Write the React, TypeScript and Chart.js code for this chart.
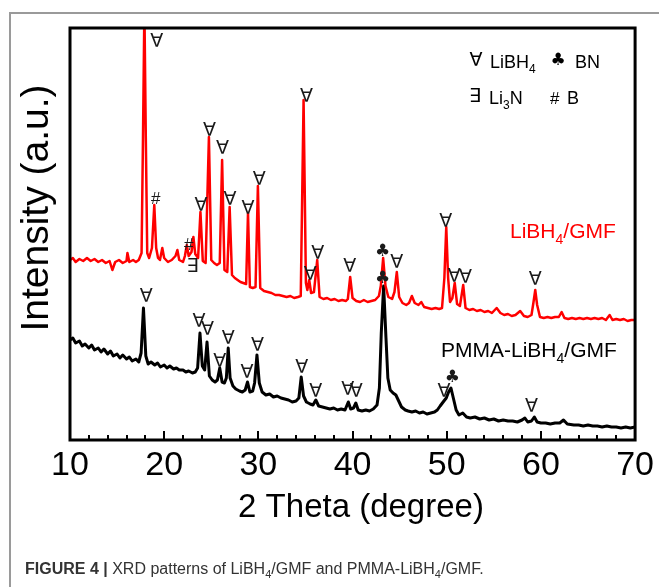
import React, { useEffect, useRef } from "react";
import { Chart, registerables } from "chart.js";

Chart.register(...registerables);

const FONT = '"Liberation Sans", Arial, Helvetica, sans-serif';
const SYM_FONT = '"DejaVu Sans", "Liberation Sans", sans-serif';

const X_MIN = 10;
const X_MAX = 70;
const X_STEP = 10;
const MINOR_TICKS = [12, 14, 16, 18, 22, 24, 26, 28, 32, 34, 36, 38, 42, 44, 46, 48, 52, 54, 56, 58, 62, 64, 66, 68];
const MAJOR_TICKS = [20, 30, 40, 50, 60];
const Y_MIN = -2;
const Y_MAX = 410;

// LiBH4/GMF pattern: [2θ, intensity]
const redPattern: [number, number][] = [
  [10.0, 178], [10.3, 180], [10.6, 176], [11.0, 179], [11.4, 177], [11.8, 180], [12.2, 177], [12.6, 179],
  [13.0, 176], [13.4, 178], [13.8, 175], [14.2, 177], [14.5, 168], [14.8, 176], [15.2, 178], [15.6, 175],
  [16.0, 177], [16.1, 185], [16.3, 176], [16.7, 178], [17.0, 176], [17.3, 178], [17.6, 185], [17.75, 300],
  [17.9, 430], [18.05, 300], [18.2, 185], [18.4, 180], [18.7, 190], [18.95, 233], [19.15, 190], [19.35, 180],
  [19.55, 178], [19.8, 190], [20.0, 180], [20.4, 176], [20.8, 178], [21.2, 182], [21.4, 188], [21.6, 178],
  [22.0, 176], [22.2, 182], [22.4, 193], [22.6, 182], [22.9, 186], [23.1, 201], [23.3, 184], [23.6, 180],
  [23.85, 226], [24.1, 177], [24.4, 175], [24.75, 301], [25.0, 178], [25.3, 175], [25.6, 173], [25.9, 175],
  [26.15, 278], [26.4, 168], [26.7, 166], [26.95, 231], [27.2, 163], [27.5, 160], [27.8, 158], [28.1, 156],
  [28.4, 155], [28.7, 154], [28.9, 225], [29.1, 151], [29.4, 150], [29.7, 151], [29.95, 252], [30.2, 150],
  [30.6, 147], [31.0, 146], [31.4, 145], [31.8, 143], [32.2, 143], [32.6, 142], [33.0, 141], [33.4, 142],
  [33.8, 140], [34.2, 141], [34.5, 142], [34.8, 338], [35.05, 155], [35.2, 148], [35.4, 158], [35.6, 145],
  [35.9, 146], [36.25, 178], [36.5, 141], [36.9, 139], [37.3, 140], [37.7, 138], [38.1, 139], [38.5, 137],
  [38.9, 138], [39.3, 137], [39.5, 139], [39.75, 161], [40.0, 140], [40.4, 137], [40.8, 136], [41.2, 138],
  [41.6, 136], [42.0, 137], [42.4, 138], [42.8, 142], [43.0, 152], [43.25, 180], [43.5, 152], [43.8, 141],
  [44.2, 139], [44.45, 146], [44.7, 166], [44.95, 141], [45.3, 135], [45.7, 133], [46.0, 135], [46.3, 142],
  [46.6, 135], [47.0, 133], [47.3, 136], [47.6, 131], [48.0, 130], [48.4, 129], [48.8, 130], [49.2, 129],
  [49.5, 130], [49.75, 160], [49.95, 211], [50.15, 160], [50.35, 136], [50.6, 140], [50.85, 155], [51.1, 134],
  [51.4, 132], [51.75, 153], [52.0, 130], [52.4, 128], [52.8, 129], [53.2, 127], [53.6, 128], [54.0, 126],
  [54.4, 127], [54.8, 125], [55.3, 130], [55.7, 125], [56.1, 123], [56.5, 124], [56.9, 122], [57.3, 123],
  [57.8, 127], [58.2, 122], [58.6, 121], [59.0, 123], [59.2, 135], [59.4, 148], [59.6, 133], [59.9, 121],
  [60.3, 120], [60.7, 121], [61.1, 120], [61.5, 121], [61.9, 121], [62.2, 126], [62.5, 120], [62.9, 119],
  [63.3, 120], [63.7, 119], [64.1, 120], [64.5, 119], [64.9, 120], [65.3, 119], [65.7, 120], [66.1, 119],
  [66.5, 120], [66.9, 118], [67.3, 123], [67.6, 118], [68.0, 119], [68.4, 118], [68.8, 119], [69.2, 117],
  [69.6, 118], [70.0, 118],
];

// PMMA-LiBH4/GMF pattern: [2θ, intensity]
const blackPattern: [number, number][] = [
  [10.0, 98], [10.3, 100], [10.6, 95], [11.0, 97], [11.3, 92], [11.6, 94], [12.0, 90], [12.3, 93],
  [12.6, 88], [13.0, 90], [13.3, 86], [13.6, 89], [14.0, 84], [14.3, 87], [14.6, 82], [15.0, 84],
  [15.3, 80], [15.6, 83], [16.0, 79], [16.3, 81], [16.6, 77], [17.0, 79], [17.3, 76], [17.55, 85],
  [17.8, 130], [18.05, 82], [18.3, 74], [18.6, 76], [19.0, 73], [19.3, 75], [19.6, 71], [20.0, 73],
  [20.3, 70], [20.6, 72], [21.0, 69], [21.3, 70], [21.6, 68], [22.0, 68], [22.3, 66], [22.6, 67],
  [23.0, 65], [23.3, 66], [23.55, 70], [23.8, 105], [24.05, 72], [24.3, 68], [24.55, 96], [24.8, 62],
  [25.1, 58], [25.4, 56], [25.65, 58], [25.9, 70], [26.15, 56], [26.4, 55], [26.6, 60], [26.8, 90],
  [27.0, 60], [27.3, 52], [27.6, 49], [28.0, 47], [28.3, 46], [28.6, 48], [28.85, 56], [29.1, 46],
  [29.4, 47], [29.6, 55], [29.85, 83], [30.1, 55], [30.4, 46], [30.8, 43], [31.2, 44], [31.6, 41],
  [32.0, 42], [32.4, 40], [32.8, 39], [33.2, 38], [33.6, 36], [34.0, 37], [34.3, 40], [34.55, 61],
  [34.8, 42], [35.1, 36], [35.5, 34], [35.8, 33], [36.1, 38], [36.4, 32], [36.8, 31], [37.2, 30],
  [37.6, 29], [38.0, 30], [38.4, 28], [38.8, 29], [39.2, 28], [39.55, 36], [39.8, 29], [40.1, 30],
  [40.35, 35], [40.6, 28], [41.0, 27], [41.4, 28], [41.8, 27], [42.2, 29], [42.6, 33], [42.85, 50],
  [43.05, 105], [43.3, 152], [43.55, 100], [43.75, 60], [44.0, 48], [44.3, 45], [44.6, 43], [44.9, 37],
  [45.2, 31], [45.6, 28], [45.9, 27], [46.3, 26], [46.7, 27], [47.1, 25], [47.5, 26], [47.9, 24],
  [48.3, 25], [48.7, 26], [49.0, 28], [49.3, 32], [49.7, 37], [49.95, 40], [50.2, 46], [50.45, 50],
  [50.7, 40], [51.0, 28], [51.3, 23], [51.7, 25], [52.1, 21], [52.5, 20], [53.0, 21], [53.5, 19],
  [54.0, 20], [54.5, 18], [55.0, 19], [55.5, 17], [56.0, 18], [56.5, 17], [57.0, 17], [57.5, 16],
  [58.0, 18], [58.3, 20], [58.6, 16], [59.0, 17], [59.3, 21], [59.6, 16], [60.0, 15], [60.5, 15],
  [61.0, 14], [61.5, 15], [62.0, 15], [62.4, 18], [62.8, 14], [63.5, 13], [64.0, 13], [64.5, 12],
  [65.0, 13], [65.5, 12], [66.0, 12], [66.5, 11], [67.0, 12], [67.5, 11], [68.0, 11], [68.5, 10],
  [69.0, 11], [69.5, 10], [70.0, 11],
];

// Phase markers: [symbol, 2θ, intensity]
const redMarkers: [string, number, number][] = [
  ["∀", 19.2, 396], ["#", 19.1, 239], ["#", 22.6, 193], ["∃", 23.0, 171],
  ["∀", 23.9, 232], ["∀", 24.8, 307], ["∀", 26.2, 289], ["∀", 27.0, 238],
  ["∀", 28.9, 229], ["∀", 30.1, 258], ["∀", 35.1, 341], ["∀", 35.5, 163],
  ["∀", 36.3, 184], ["∀", 39.7, 171], ["♣", 43.2, 186], ["∀", 44.7, 175],
  ["∀", 49.9, 216], ["∀", 50.8, 161], ["∀", 52.0, 160], ["∀", 59.4, 158],
];
const blackMarkers: [string, number, number][] = [
  ["♣", 43.2, 159], ["∀", 18.1, 141], ["∀", 23.7, 116], ["∀", 24.6, 108],
  ["∀", 25.9, 76], ["∀", 26.8, 99], ["∀", 28.8, 65], ["∀", 29.9, 92],
  ["∀", 34.6, 70], ["∀", 36.1, 46], ["∀", 39.5, 48], ["∀", 40.4, 46],
  ["∀", 49.7, 46], ["♣", 50.6, 60], ["∀", 59.0, 31],
];

type Part = [string, boolean];

function drawRich(ctx: CanvasRenderingContext2D, parts: Part[], x: number, baseline: number, size: number) {
  let cx = x;
  for (const [txt, sub] of parts) {
    const s = sub ? Math.round(size * 0.66) : size;
    ctx.font = `${s}px ${FONT}`;
    ctx.fillText(txt, cx, baseline + (sub ? Math.round(size * 0.28) : 0));
    cx += ctx.measureText(txt).width;
  }
}

function drawSym(ctx: CanvasRenderingContext2D, sym: string, x: number, y: number) {
  ctx.textAlign = "center";
  ctx.textBaseline = "middle";
  if (sym === "#") ctx.font = `17px ${FONT}`;
  else if (sym === "♣") ctx.font = `17px ${SYM_FONT}`;
  else ctx.font = `19px ${SYM_FONT}`;
  ctx.fillText(sym, x, y);
}

const overlayPlugin = {
  id: "overlay",
  afterDatasetsDraw(chart: any) {
    const { ctx, chartArea: a, scales } = chart;
    const xs = scales.x;
    const ys = scales.y;
    ctx.save();
    // plot frame
    ctx.strokeStyle = "#000";
    ctx.lineWidth = 3;
    ctx.strokeRect(a.left, a.top, a.right - a.left, a.bottom - a.top);
    // inward ticks
    ctx.lineWidth = 2;
    ctx.beginPath();
    for (const t of MINOR_TICKS) {
      const px = Math.round(xs.getPixelForValue(t));
      ctx.moveTo(px, a.bottom);
      ctx.lineTo(px, a.bottom - 5);
    }
    for (const t of MAJOR_TICKS) {
      const px = Math.round(xs.getPixelForValue(t));
      ctx.moveTo(px, a.bottom);
      ctx.lineTo(px, a.bottom - 9);
    }
    ctx.stroke();

    // phase markers
    ctx.fillStyle = "#1a1a1a";
    for (const [sym, th, v] of [...redMarkers, ...blackMarkers]) {
      drawSym(ctx, sym, xs.getPixelForValue(th), ys.getPixelForValue(v));
    }

    // legend of phases
    ctx.fillStyle = "#000";
    drawSym(ctx, "∀", 476, 61);
    ctx.textAlign = "left";
    ctx.textBaseline = "alphabetic";
    drawRich(ctx, [["LiBH", false], ["4", true]], 490, 68, 18);
    drawSym(ctx, "♣", 558, 61);
    ctx.textAlign = "left";
    ctx.textBaseline = "alphabetic";
    drawRich(ctx, [["BN", false]], 575, 68, 18);
    drawSym(ctx, "∃", 475, 97);
    ctx.textAlign = "left";
    ctx.textBaseline = "alphabetic";
    drawRich(ctx, [["Li", false], ["3", true], ["N", false]], 489, 104, 18);
    ctx.font = `17px ${FONT}`;
    ctx.fillText("#", 550, 104);
    drawRich(ctx, [["B", false]], 567, 104, 18);

    // series labels
    ctx.fillStyle = "#ff0000";
    drawRich(ctx, [["LiBH", false], ["4", true], ["/GMF", false]], 510, 238, 21);
    ctx.fillStyle = "#000";
    drawRich(ctx, [["PMMA-LiBH", false], ["4", true], ["/GMF", false]], 441, 357, 21);

    // axis titles
    ctx.textAlign = "center";
    ctx.textBaseline = "alphabetic";
    ctx.font = `33px ${FONT}`;
    ctx.fillText("2 Theta (degree)", 361, 517);
    ctx.save();
    ctx.translate(48, 208);
    ctx.rotate(-Math.PI / 2);
    ctx.font = `39px ${FONT}`;
    ctx.fillText("Intensity (a.u.)", 0, 0);
    ctx.restore();

    ctx.restore();
  },
};

export default function App() {
  const canvasRef = useRef<HTMLCanvasElement | null>(null);

  useEffect(() => {
    if (!canvasRef.current) return;
    const chart = new Chart(canvasRef.current, {
      type: "line",
      data: {
        datasets: [
          {
            label: "LiBH4/GMF",
            data: redPattern.map(([x, y]) => ({ x, y })),
            borderColor: "#ff0000",
            borderWidth: 2.5,
            pointRadius: 0,
            tension: 0,
            borderJoinStyle: "round",
            fill: false,
          },
          {
            label: "PMMA-LiBH4/GMF",
            data: blackPattern.map(([x, y]) => ({ x, y })),
            borderColor: "#000000",
            borderWidth: 3,
            pointRadius: 0,
            tension: 0,
            borderJoinStyle: "round",
            fill: false,
          },
        ],
      },
      options: {
        responsive: false,
        animation: false,
        devicePixelRatio: 1,
        layout: { padding: { left: 70, right: 22, top: 28, bottom: 0 } },
        plugins: { legend: { display: false }, tooltip: { enabled: false } },
        scales: {
          x: {
            type: "linear",
            min: X_MIN,
            max: X_MAX,
            afterFit: (scale: any) => {
              scale.height = 147;
            },
            ticks: {
              stepSize: X_STEP,
              color: "#000",
              padding: 5,
              maxRotation: 0,
              font: { family: FONT, size: 34 },
            },
            grid: { display: false, drawTicks: false },
            border: { display: false },
          },
          y: {
            display: false,
            min: Y_MIN,
            max: Y_MAX,
          },
        },
      } as any,
      plugins: [overlayPlugin],
    });
    return () => chart.destroy();
  }, []);

  return (
    <div style={{ position: "fixed", left: 0, top: 0, width: 659, height: 587, background: "#fff", overflow: "hidden" }}>
      <div
        style={{
          position: "absolute",
          left: 9,
          top: 12,
          width: 650,
          height: 575,
          borderTop: "2px solid #9a9a9a",
          borderLeft: "2px solid #9a9a9a",
          boxSizing: "border-box",
        }}
      />
      <canvas ref={canvasRef} width={659} height={587} style={{ position: "absolute", left: 0, top: 0 }} />
      <div
        style={{
          position: "absolute",
          left: 25,
          top: 559,
          fontFamily: FONT,
          fontSize: 16,
          lineHeight: "20px",
          color: "#333",
          whiteSpace: "nowrap",
        }}
      >
        <b>FIGURE 4 |</b> XRD patterns of LiBH
        <span style={{ fontSize: 11, position: "relative", top: 4 }}>4</span>/GMF and PMMA-LiBH
        <span style={{ fontSize: 11, position: "relative", top: 4 }}>4</span>/GMF.
      </div>
    </div>
  );
}
